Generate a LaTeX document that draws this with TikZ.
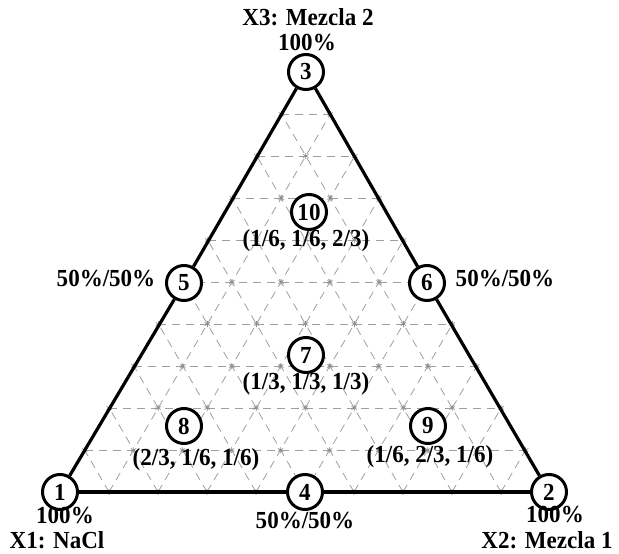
\documentclass[tikz,border=0pt]{standalone}
\usepackage{fontspec}
\setmainfont{Liberation Serif}[FakeStretch=0.94]
\usetikzlibrary{calc}
\begin{document}
\begin{tikzpicture}[x=1pt,y=-1pt,
  every node/.style={font=\fontsize{24.5}{28}\selectfont\bfseries},
  vtx/.style={circle,draw=black,line width=3pt,fill=white,minimum size=35pt,inner sep=0pt},
  edge/.style={line width=3.2pt,black},
  gridln/.style={draw=black!38,line width=0.8pt,dash pattern=on 8pt off 6pt},
  gridstar/.style={draw=black!45,line width=0.7pt},
  lbl/.style={inner sep=0pt}]
\useasboundingbox (0,0) rectangle (619,554);
% triangle corners
\coordinate (A) at (60,492);
\coordinate (B) at (550,492);
\coordinate (C) at (306,72);
% grid lines
\foreach \k in {1,...,9}{
  \draw[gridln] ($(A)!{\k/10}!(C)$) -- ($(B)!{\k/10}!(C)$);
  \draw[gridln] ($(A)!{\k/10}!(B)$) -- ($(C)!{\k/10}!(B)$);
  \draw[gridln] ($(B)!{\k/10}!(A)$) -- ($(C)!{\k/10}!(A)$);
}
% star marks at grid points
\foreach \i in {0,...,10}{
  \pgfmathtruncatemacro{\jmax}{10-\i}
  \foreach \j in {0,...,\jmax}{
    \pgfmathsetmacro{\px}{60+49*\i+24.6*\j}
    \pgfmathsetmacro{\py}{492-42*\j}
    \draw[gridstar] (\px,\py) +(0,-3)--+(0,3) +(-2.6,-1.5)--+(2.6,1.5) +(-2.6,1.5)--+(2.6,-1.5);
  }
}
% vertex nodes
\node[vtx] (n1) at (60,492) {1};
\node[vtx] (n2) at (549,492) {2};
\node[vtx] (n3) at (306,72) {3};
\node[vtx] (n4) at (305,492) {4};
\node[vtx] (n5) at (184,283) {5};
\node[vtx] (n6) at (427,283) {6};
\node[vtx] (n7) at (306,355) {7};
\node[vtx] (n8) at (184,426) {8};
\node[vtx] (n9) at (428,426) {9};
\node[vtx] (n10) at (309,212) {10};
% edges
\draw[edge] (n1) -- (n5);
\draw[edge] (n5) -- (n3);
\draw[edge] (n3) -- (n6);
\draw[edge] (n6) -- (n2);
\draw[edge] (n2) -- (n4);
\draw[edge] (n4) -- (n1);
% labels
\node[lbl] (t3a) at (308,17) {X3: Mezcla 2};
\node[lbl] (t3b) at (307,43) {100\%};
\node[lbl] (t1a) at (65,516) {100\%};
\node[lbl,anchor=base] (t1b) at (57,548) {X1: NaCl};
\node[lbl] (t5) at (106,279) {50\%/50\%};
\node[lbl] (t6) at (505,279) {50\%/50\%};
\node[lbl] (t4) at (305,521) {50\%/50\%};
\node[lbl] (t2a) at (555,515) {100\%};
\node[lbl,anchor=base] (t2b) at (547,548) {X2: Mezcla 1};
\node[lbl] (c10) at (306,241) {(1/6, 1/6, 2/3)};
\node[lbl] (c7) at (306,384) {(1/3, 1/3, 1/3)};
\node[lbl] (c8) at (196,460) {(2/3, 1/6, 1/6)};
\node[lbl] (c9) at (430,457) {(1/6, 2/3, 1/6)};
\end{tikzpicture}
\end{document}
